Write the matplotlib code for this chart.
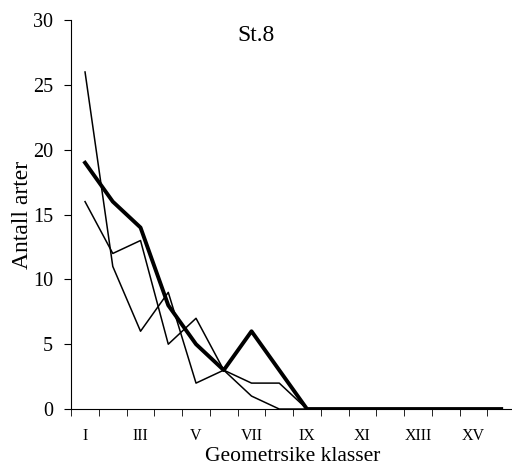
import matplotlib
matplotlib.use("Agg")
import matplotlib.pyplot as plt
import numpy as np

plt.rcParams["font.family"] = ["Liberation Serif", "DejaVu Serif"]

classes = ["I", "II", "III", "IV", "V", "VI", "VII", "VIII",
           "IX", "X", "XI", "XII", "XIII", "XIV", "XV", "XVI"]
thick_line = [19, 16, 14, 8, 5, 3, 6, 3, 0, 0, 0, 0, 0, 0, 0, 0]
thin_a = [26, 11, 6, 9, 2, 3, 1, 0, 0, 0, 0, 0, 0, 0, 0, 0]
thin_b = [16, 12, 13, 5, 7, 3, 2, 2, 0, 0, 0, 0, 0, 0, 0, 0]

x = np.arange(len(classes))

fig = plt.figure(figsize=(5.12, 4.68), dpi=100)
ax = fig.add_axes([0.139, 0.126, 0.867, 0.831])

ax.plot(x, thin_a, color="black", lw=1.1)
ax.plot(x, thin_b, color="black", lw=1.1)
ax.plot(x, thick_line, color="black", lw=2.8)

ax.set_xlim(-0.5, len(classes) - 0.5)
ax.set_ylim(0, 30)
ax.set_yticks(range(0, 31, 5))
ax.tick_params(axis="y", direction="out", length=5, labelsize=14.5, pad=8)

# tick marks between categories, labels on every other class
ax.set_xticks(x[::2])
ax.set_xticklabels(classes[::2])
ax.set_xticks(np.arange(-0.5, len(classes), 1), minor=True)
ax.tick_params(axis="x", which="major", length=0, labelsize=11.5, pad=14)
ax.tick_params(axis="x", which="minor", direction="out", length=5)

for side in ["top", "right"]:
    ax.spines[side].set_visible(False)
ax.spines["left"].set_linewidth(0.8)
ax.spines["bottom"].set_linewidth(0.8)

ax.text(0.417, 0.96, "St.8", transform=ax.transAxes, ha="center",
        va="center", fontsize=17)
ax.set_ylabel("Antall arter", fontsize=17, labelpad=0)
ax.set_xlabel("Geometrsike klasser", fontsize=15.5, labelpad=2)

fig.savefig("out.png", dpi=100)
